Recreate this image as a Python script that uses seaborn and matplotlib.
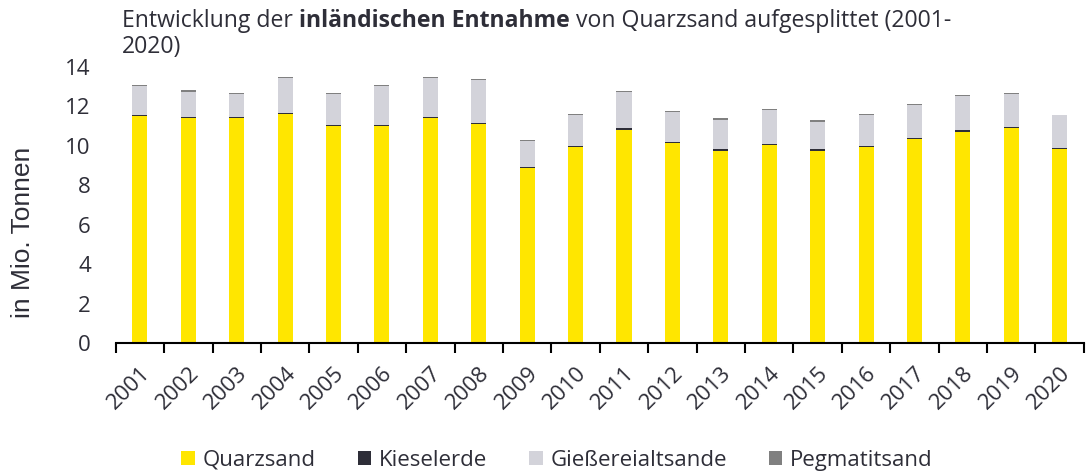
import numpy as np
import pandas as pd
import matplotlib
matplotlib.use("Agg")
import matplotlib.pyplot as plt
import seaborn as sns

years = [str(y) for y in range(2001, 2021)]
quarzsand = [11.52, 11.40, 11.40, 11.62, 11.02, 11.02, 11.40, 11.12, 8.88, 9.93,
             10.83, 10.14, 9.75, 10.03, 9.75, 9.93, 10.34, 10.73, 10.91, 9.83]
kieselerde = [0.06, 0.08, 0.08, 0.06, 0.06, 0.06, 0.08, 0.05, 0.05, 0.08,
              0.06, 0.08, 0.08, 0.08, 0.08, 0.08, 0.08, 0.08, 0.05, 0.08]
giessereialtsande = [1.47, 1.27, 1.15, 1.77, 1.55, 1.97, 1.97, 2.18, 1.31, 1.55,
                     1.85, 1.51, 1.50, 1.70, 1.40, 1.55, 1.63, 1.74, 1.68, 1.64]
pegmatitsand = [0.05, 0.06, 0.06, 0.05, 0.06, 0.05, 0.05, 0.05, 0.05, 0.05,
                0.05, 0.05, 0.07, 0.05, 0.07, 0.05, 0.05, 0.05, 0.05, 0.02]
series_names = ["Quarzsand", "Kieselerde", "Gießereialtsande", "Pegmatitsand"]
colors = ["#FFE600", "#2E2E38", "#D3D3DA", "#808080"]

text_color = "#2E2E38"
font = "Open Sans"

sns.set_theme(style="white")
plt.rcParams["font.family"] = [font, "DejaVu Sans"]
plt.rcParams["text.color"] = text_color

df = pd.DataFrame({"Jahr": years, "Quarzsand": quarzsand, "Kieselerde": kieselerde,
                   "Gießereialtsande": giessereialtsande, "Pegmatitsand": pegmatitsand})
layers = df[series_names].cumsum(axis=1)

fig = plt.figure(figsize=(10.86, 4.72), dpi=100)
ax = fig.add_axes([0.1066, 0.273, 0.8914, 0.585])

# stacked bars: draw cumulative heights from the top layer down
for name, col in reversed(list(zip(series_names, colors))):
    sns.barplot(x=df["Jahr"], y=layers[name], color=col, width=0.31, ax=ax,
                saturation=1, edgecolor="none", errorbar=None, label=name)
handles, labels = ax.get_legend_handles_labels()
if ax.get_legend() is not None:
    ax.get_legend().remove()

ax.set_ylim(0, 14)
ax.set_xlim(-0.5, len(years) - 0.5)
ax.set_yticks(np.arange(0, 15, 2))
ax.set_yticklabels([str(v) for v in range(0, 15, 2)], fontsize=16, color=text_color)
ax.tick_params(axis="y", length=0, pad=18)
ax.set_xticks(range(len(years)))
ax.set_xticklabels(years, rotation=45, ha="right", rotation_mode="anchor",
                   fontsize=16, color=text_color)
ax.tick_params(axis="x", which="major", length=0, pad=14)
ax.set_xticks(np.arange(-0.5, len(years), 1.0), minor=True)
ax.tick_params(axis="x", which="minor", length=7, width=1.5, color="black", bottom=True)
for s in ["top", "right", "left"]:
    ax.spines[s].set_visible(False)
ax.spines["bottom"].set_color("black")
ax.spines["bottom"].set_linewidth(1.5)
ax.set_xlabel("")
ax.set_ylabel("in Mio. Tonnen", fontsize=19, color=text_color,
              family=["Liberation Sans", "DejaVu Sans"])
ax.yaxis.set_label_coords(-0.083, 0.40)

# legend in series order
order = [labels.index(n) for n in series_names]
fig.legend([handles[i] for i in order], series_names, loc="lower center",
           bbox_to_anchor=(0.513, -0.04), ncol=4, frameon=False, fontsize=16,
           handlelength=0.6, handleheight=0.6, handletextpad=0.35, columnspacing=1.9,
           labelcolor=text_color)

# title with a bold middle part
fs_title = 16.6
ty = 1 - 27 / 472
t1 = fig.text(122 / 1086, ty, "Entwicklung der ", fontsize=fs_title, color=text_color,
              ha="left", va="baseline")
t2 = fig.text(0, ty, "inländischen Entnahme", fontsize=fs_title, color=text_color,
              fontweight="bold", ha="left", va="baseline")
t3 = fig.text(0, ty, " von Quarzsand aufgesplittet (2001-", fontsize=fs_title,
              color=text_color, ha="left", va="baseline")
fig.text(122 / 1086, 1 - 53 / 472, "2020)", fontsize=fs_title, color=text_color,
         ha="left", va="baseline")
fig.canvas.draw()
r = fig.canvas.get_renderer()
inv = fig.transFigure.inverted()
x1 = inv.transform((t1.get_window_extent(r).x1, 0))[0]
t2.set_position((x1, ty))
fig.canvas.draw()
x2 = inv.transform((t2.get_window_extent(r).x1, 0))[0]
t3.set_position((x2, ty))

fig.savefig("out.png", dpi=100)
